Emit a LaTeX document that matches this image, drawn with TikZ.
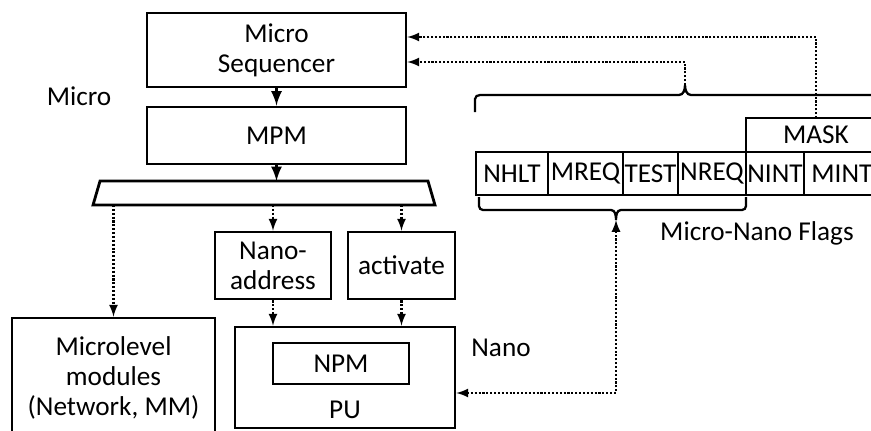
\documentclass[tikz,border=0pt]{standalone}
\usepackage{fontspec}
\setmainfont{Carlito}
\usetikzlibrary{shapes,arrows}
\usetikzlibrary{positioning}

\begin{document}
\begin{tikzpicture}[x=0.02cm, y=-0.02cm,
        every node/.style={font=\fontsize{15.5}{17}\selectfont},
        block/.style={draw, line width=1.6pt, align=center, inner sep=0pt},
        flag/.style={draw, line width=1.5pt, inner sep=0pt, outer sep=0pt, minimum height=0.86cm},
        flow/.style={line width=1.3pt, dash pattern=on 1.2pt off 1pt, -latex},
        feed/.style={line width=1.8pt, -latex},
        brace/.style={line width=1.3pt}]
        \clip (0,0) rectangle (871,430);
        % micro level
        \node[block, minimum width=5.18cm, minimum height=1.48cm] (seq) at (276.5,50) {Micro\\Sequencer};
        \node[block, minimum width=5.18cm, minimum height=1.14cm] (mpm) at (276.5,135.5) {MPM};
        \node[inner sep=0pt, outer sep=0pt, minimum width=6.84cm, minimum height=0.48cm] (demux) at (264,193) {};
        \draw[line width=1.6pt] (demux.south west) -- ([xshift=0.14cm]demux.north west)
            -- ([xshift=-0.14cm]demux.north east) -- (demux.south east) -- cycle;
        \node (microlbl) at (79,96) {Micro};
        \node[block, minimum width=2.32cm, minimum height=1.34cm] (nanoaddr) at (273,265.5) {Nano-\\address};
        \node[block, minimum width=2.14cm, minimum height=1.34cm] (act) at (401.5,265.5) {activate};
        \node[block, minimum width=4.06cm, minimum height=2.4cm] (mlm) at (113.5,378) {Microlevel\\modules\\(Network, MM)};
        % nano level
        \node[block, minimum width=4.4cm, minimum height=2.02cm] (pu) at (345,377.5) {};
        \node[block, minimum width=2.72cm, minimum height=0.82cm] (npm) at (341,363.5) {NPM};
        \node (putxt) at (345,410) {PU};
        \node (nanolbl) at (501,348) {Nano};
        % flags
        \node[flag, minimum width=1.44cm] (nhlt) at (512,173.5) {NHLT};
        \node[flag, minimum width=1.5cm, right=0pt of nhlt] (mreq) {MREQ};
        \node[flag, minimum width=1.1cm, right=0pt of mreq] (test) {TEST};
        \node[flag, minimum width=1.36cm, right=0pt of test] (nreq) {NREQ};
        \node[flag, minimum width=1.16cm, right=0pt of nreq] (nint) {NINT};
        \node[flag, minimum width=1.52cm, right=0pt of nint] (mint) {MINT};
        \node[flag, minimum width=2.8cm, minimum height=0.68cm, anchor=south west] (mask) at (nint.north west) {MASK};
        \node (flagslbl) at (757,233) {Micro-Nano Flags};
        % braces
        \coordinate (ubtip) at (685,85);
        \coordinate (lbtip) at (616,220);
        \draw[brace] (475,112) -- (475,99) to[out=90,in=180] (480,95) -- (679,95) to[out=0,in=-90] (ubtip)
            to[out=-90,in=180] (691,95) -- (890,95) to[out=0,in=90] (895,99) -- (895,112);
        \draw[brace] (479,197) -- (479,206) to[out=-90,in=180] (483,210) -- (611,210) to[out=0,in=90] (lbtip)
            to[out=90,in=180] (621,210) -- (742,210) to[out=0,in=-90] (746,206) -- (746,197);
        % connectors
        \draw[feed] (seq) -- (mpm);
        \draw[feed] (mpm.south) -- (mpm.south |- demux.north);
        \draw[flow] (demux.south -| mlm.north) -- (mlm.north);
        \draw[flow] (demux.south -| nanoaddr.north) -- (nanoaddr.north);
        \draw[flow] (demux.south -| act.north) -- (act.north);
        \draw[flow] (nanoaddr.south) -- (nanoaddr.south |- pu.north);
        \draw[flow] (act.south) -- (act.south |- pu.north);
        \draw[flow] (mask.north) |- ([yshift=0.26cm]seq.east);
        \draw[flow] (ubtip) |- ([yshift=-0.24cm]seq.east);
        \draw[flow, latex-latex] ([yshift=-0.31cm]pu.east) -| (lbtip);
\end{tikzpicture}
\end{document}
